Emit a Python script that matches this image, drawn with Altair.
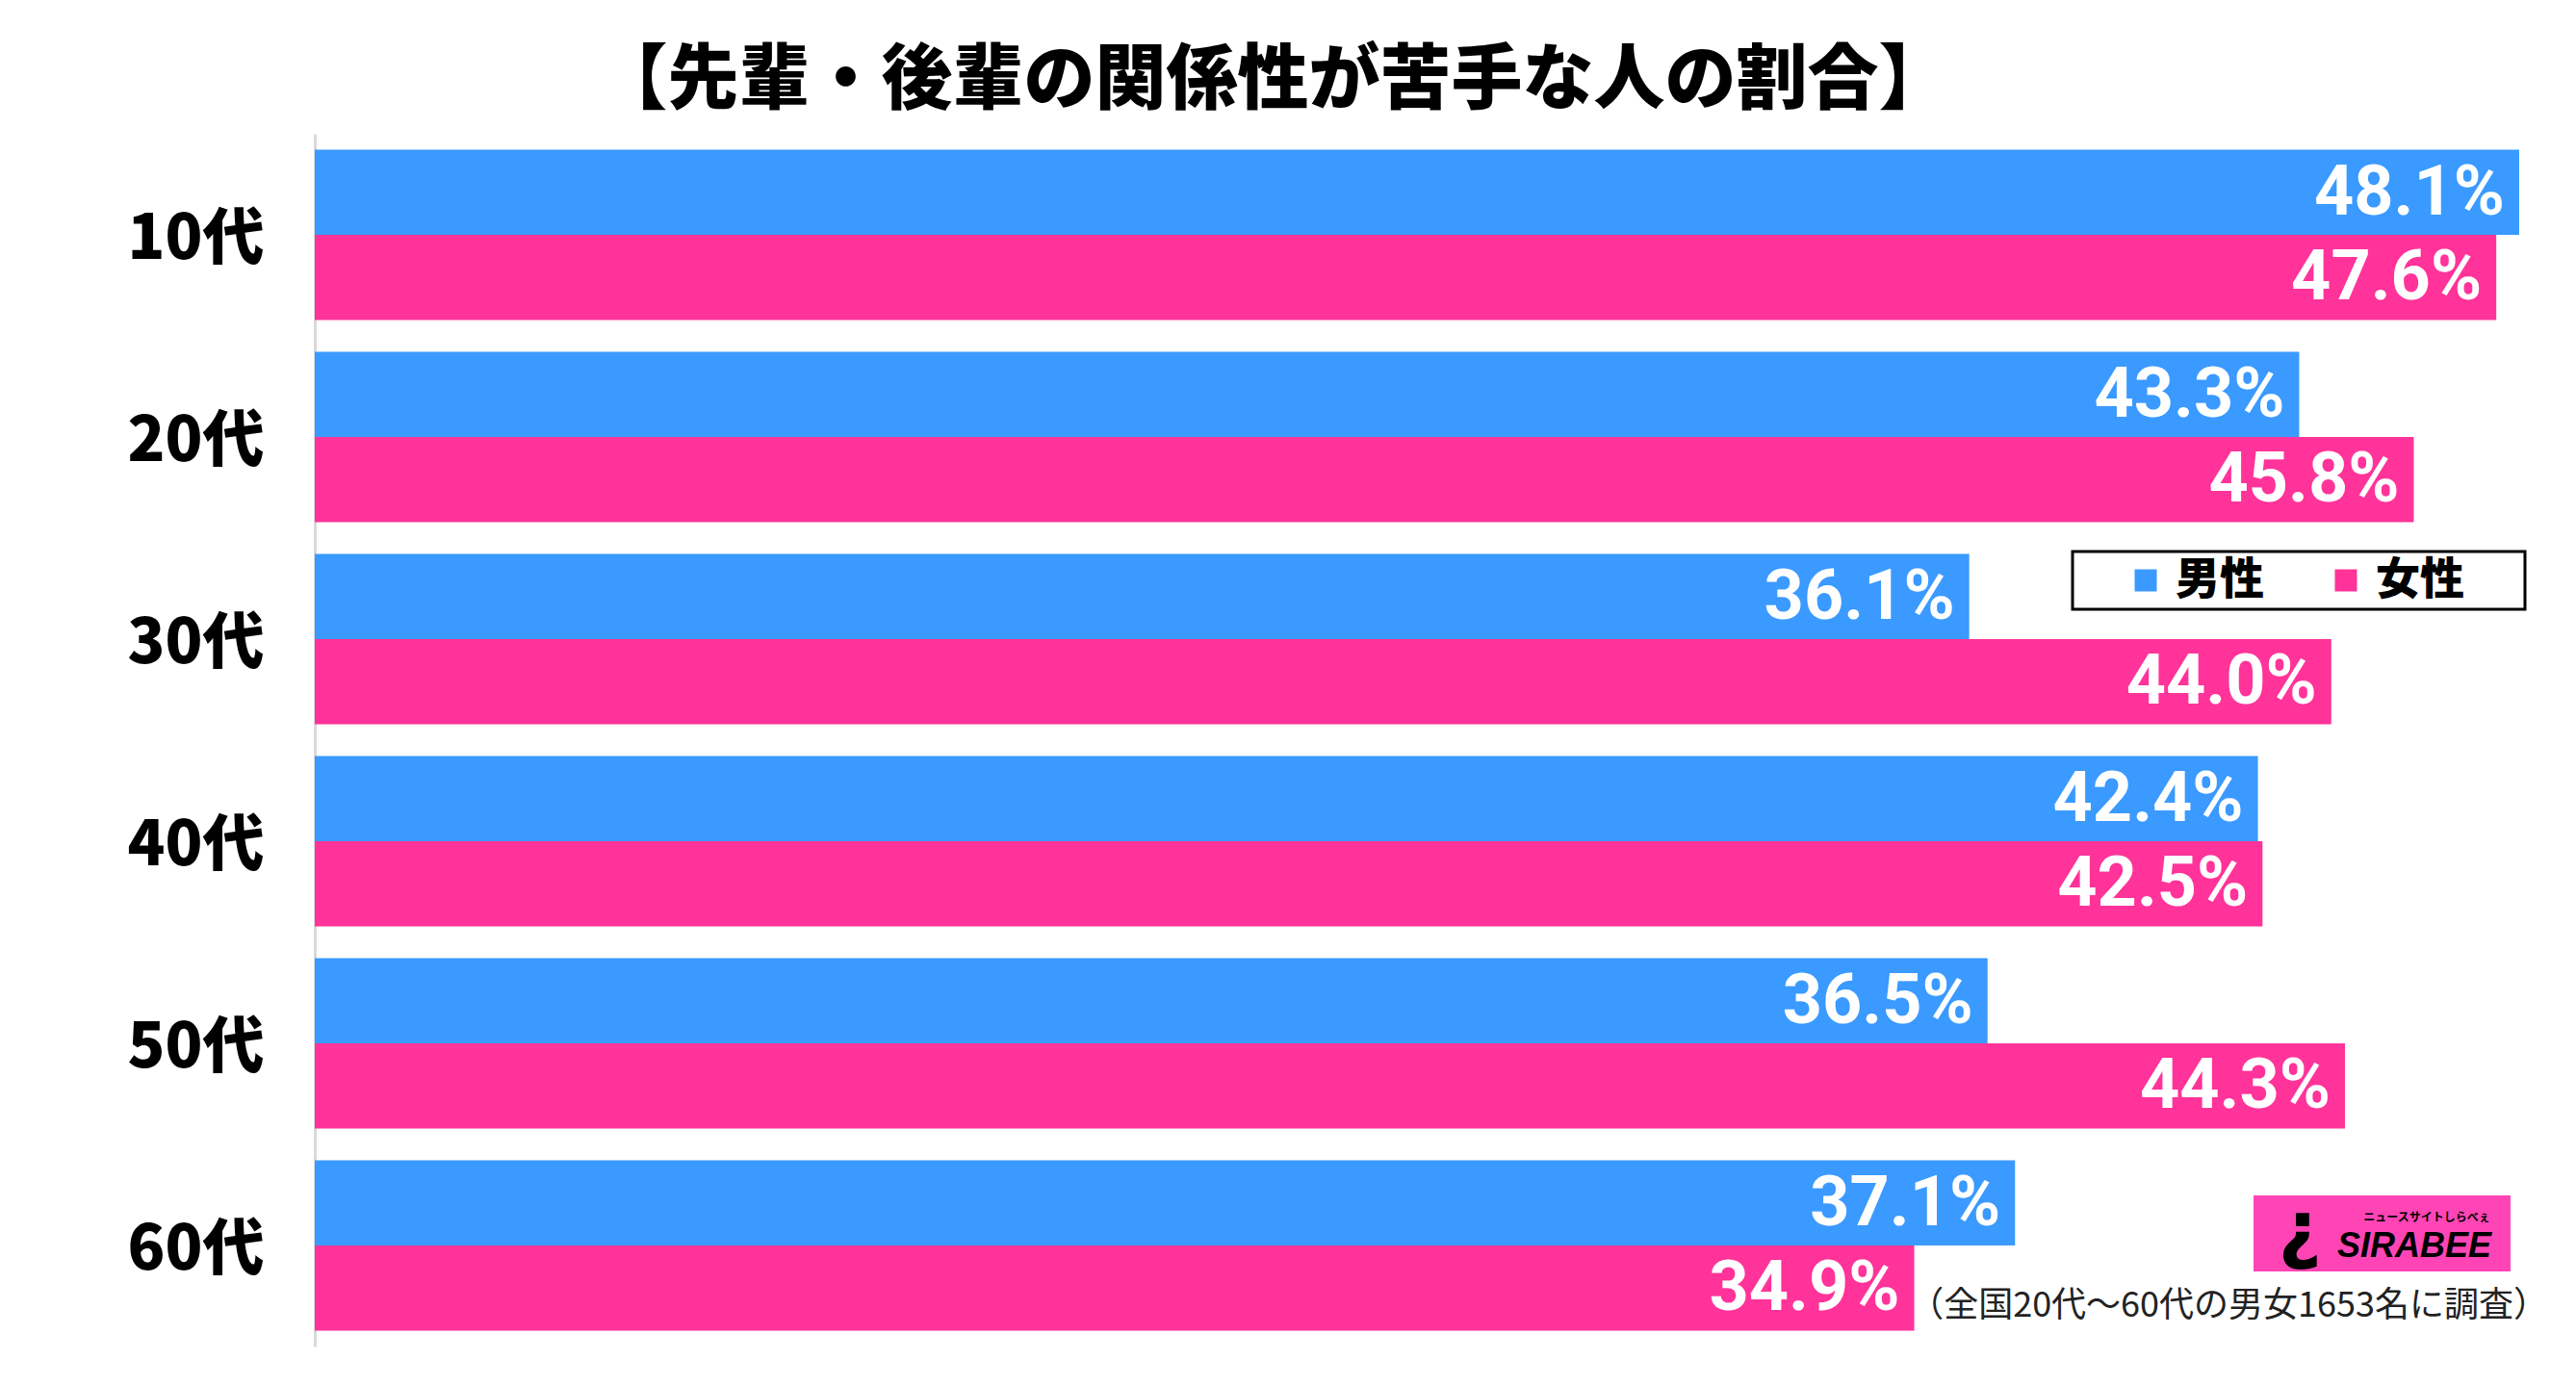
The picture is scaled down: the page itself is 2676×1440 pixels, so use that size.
import altair as alt
import pandas as pd

ages = ["10代", "20代", "30代", "40代", "50代", "60代"]
genders = ["男性", "女性"]
male = [48.1, 43.3, 36.1, 42.4, 36.5, 37.1]
female = [47.6, 45.8, 44.0, 42.5, 44.3, 34.9]
colors = ["#3A9AFF", "#FF3399"]

title_text = "【先輩・後輩の関係性が苦手な人の割合】"
footnote = "（全国20代～60代の男女1653名に調査）"

rows = []
for a, m, f in zip(ages, male, female):
    rows.append({"age": a, "gender": "男性", "value": m})
    rows.append({"age": a, "gender": "女性", "value": f})
df = pd.DataFrame(rows)

JP = "Noto Sans CJK JP"
NUM = "Roboto, Liberation Sans, sans-serif"

base = alt.Chart(df).transform_calculate(
    label="format(datum.value, '.1f') + '%'"
).encode(
    y=alt.Y("age:N", sort=ages,
            scale=alt.Scale(paddingInner=0.157, paddingOuter=0.0785),
            axis=alt.Axis(title=None, labelFont=JP, labelFontSize=64,
                          labelFontWeight=900, labelColor="black",
                          labelPadding=53, labelOffset=6, ticks=False,
                          domainColor="#D9D9D9", domainWidth=3, grid=False)),
    yOffset=alt.YOffset("gender:N", sort=genders),
    x=alt.X("value:Q", scale=alt.Scale(domain=[0, 48.5]), axis=None),
)

bars = base.mark_bar().encode(
    color=alt.Color("gender:N", sort=genders,
                    scale=alt.Scale(domain=genders, range=colors),
                    legend=alt.Legend(title=None, orient="none", legendX=1879, legendY=441,
                                      direction="horizontal", symbolType="square",
                                      symbolSize=529, symbolStrokeWidth=0,
                                      labelFont=JP, labelFontSize=46,
                                      labelFontWeight=900, labelColor="black",
                                      columnPadding=62, labelOffset=8, padding=0))
)

labels = base.mark_text(align="right", baseline="middle", dx=-15, dy=1, color="white",
                        font=NUM, fontSize=72, fontWeight="bold").encode(
    text="label:N")

one = pd.DataFrame({"k": [0]})

box = alt.Chart(one).mark_rect(fill="white", stroke="black", strokeWidth=3).encode(
    x=alt.value(1826), x2=alt.value(2296), y=alt.value(434), y2=alt.value(494))

foot = alt.Chart(one).mark_text(text=footnote, align="right", baseline="middle",
                                font=JP, fontSize=36, color="#222222").encode(
    x=alt.value(2320), y=alt.value(1218))

logo_rect = alt.Chart(one).mark_rect(fill="#FF45B5").encode(
    x=alt.value(2014), x2=alt.value(2281), y=alt.value(1103), y2=alt.value(1182))
logo_i = alt.Chart(one).mark_text(text="¿", align="center", baseline="middle",
                                  font="DejaVu Sans", fontSize=78, fontWeight="bold",
                                  color="black").encode(
    x=alt.value(2062), y=alt.value(1142))
logo_name = alt.Chart(one).mark_text(text="SIRABEE", align="center", baseline="middle",
                                     font="Liberation Sans", fontSize=36, fontWeight="bold",
                                     fontStyle="italic", color="black").encode(
    x=alt.value(2181), y=alt.value(1156))
logo_sub = alt.Chart(one).mark_text(text="ニュースサイトしらべぇ", align="center",
                                    baseline="middle", font=JP, fontSize=12,
                                    fontWeight="bold", color="black").encode(
    x=alt.value(2194), y=alt.value(1126))

chart = alt.layer(box, bars, labels, foot, logo_rect, logo_i, logo_name, logo_sub).properties(
    width=2309, height=1260,
    background="white",
    title=alt.Title(title_text, font=JP, fontSize=74, fontWeight=900, color="black",
                    anchor="middle", dx=-159, offset=16),
    autosize=alt.AutoSizeParams(type="none"),
    padding={"left": 319, "top": 131, "right": 32, "bottom": 25},
).configure_view(stroke=None)

chart.save("out.html", embed_options={"renderer": "svg", "actions": False})
